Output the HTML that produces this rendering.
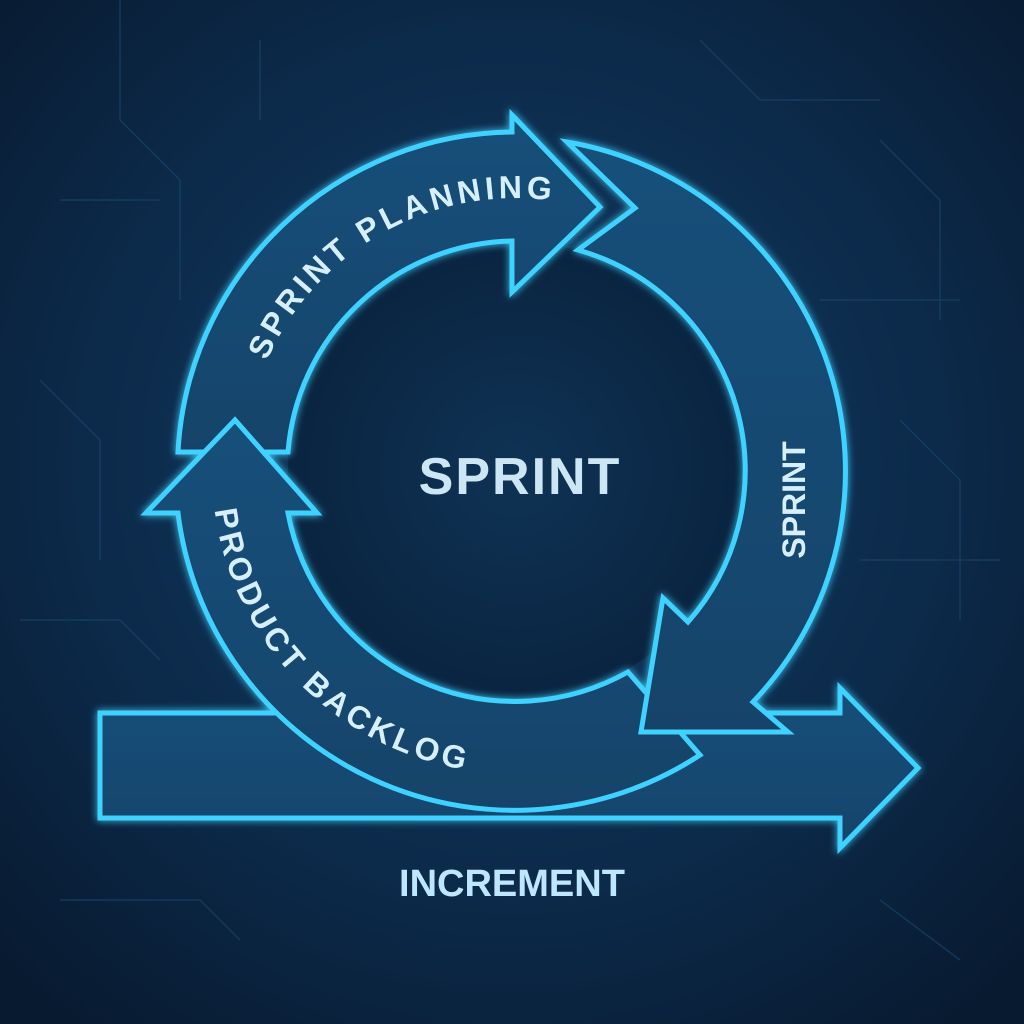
<!DOCTYPE html>
<html><head><meta charset="utf-8"><style>
html,body{margin:0;padding:0;background:#0a1f38;}
svg{display:block}
</style></head><body>
<svg width="1024" height="1024" viewBox="0 0 1024 1024" xmlns="http://www.w3.org/2000/svg">
<defs>
<radialGradient id="bg" cx="50%" cy="45%" r="70%">
<stop offset="0" stop-color="#123c62"/><stop offset="0.6" stop-color="#0c2a4a"/><stop offset="1" stop-color="#081a30"/>
</radialGradient>
<radialGradient id="cen" cx="50%" cy="50%" r="50%">
<stop offset="0" stop-color="#0f3355"/><stop offset="1" stop-color="#0a2440"/>
</radialGradient>
<linearGradient id="fill" x1="0" y1="0" x2="0" y2="1">
<stop offset="0" stop-color="#19507a"/><stop offset="1" stop-color="#13436a"/>
</linearGradient>
<filter id="glow" x="-20%" y="-20%" width="140%" height="140%">
<feGaussianBlur in="SourceGraphic" stdDeviation="4" result="b"/>
<feMerge><feMergeNode in="b"/><feMergeNode in="SourceGraphic"/></feMerge>
</filter>
<path id="tp1" d="M244,470 A272,272 0 0 1 788,470"/>
<path id="tp2" d="M212,470 A304,304 0 0 0 516,774"/>
</defs>
<rect width="1024" height="1024" fill="url(#bg)"/>
<g stroke="#1d4a70" stroke-width="1.5" fill="none" opacity="0.6">
<path d="M120,0 V120 L180,180 V300 M60,200 H160 M40,380 L100,440 V560 M20,620 H120 L160,660 M880,140 L940,200 V320 M820,300 H960 M900,420 L960,480 V620 M860,560 H1000 M700,40 L760,100 H880 M260,40 V120 M880,900 L960,960 M60,900 H200 L240,940"/>
</g>
<circle cx="516" cy="470" r="228" fill="url(#cen)"/>
<g fill="url(#fill)" stroke="#3fd2ff" stroke-width="5" stroke-linejoin="miter" filter="url(#glow)">
<path d="M100,713 H840 V688 L918,768 L840,848 V818 H100 Z"/>
<path d="M178,452 A338,338 0 0 1 512,132 L512,115 L600,207 L512,292 L512,241 A229,229 0 0 0 288,452 Z"/>
<path d="M178,513 A339,339 0 0 0 700,755 L628,672 A231,231 0 0 1 288,513 L317,513 L235,420 L146,513 Z"/>
<path d="M567,142 L635,208 L578,250 A229,229 0 0 1 688,622 L663,598 L641,732 L788,732 L753,702 A334,334 0 0 0 567,142 Z"/>
</g>
<g font-family="Liberation Sans, sans-serif" fill="#d6effc">
<text font-size="32" font-weight="600"><textPath href="#tp1" startOffset="112" textLength="350" lengthAdjust="spacing">SPRINT PLANNING</textPath></text>
<text font-size="32" font-weight="600"><textPath href="#tp2" startOffset="40" textLength="385" lengthAdjust="spacing">PRODUCT BACKLOG</textPath></text>
<text font-size="32" font-weight="600" transform="translate(805,500) rotate(-90)" text-anchor="middle">SPRINT</text>
<text x="520" y="494" font-size="52" font-weight="bold" fill="#cde6f3" text-anchor="middle" letter-spacing="2">SPRINT</text>
<text x="512" y="896" font-size="38" font-weight="600" fill="#bfe6ff" text-anchor="middle">INCREMENT</text>
</g>
</svg>
</body></html>
